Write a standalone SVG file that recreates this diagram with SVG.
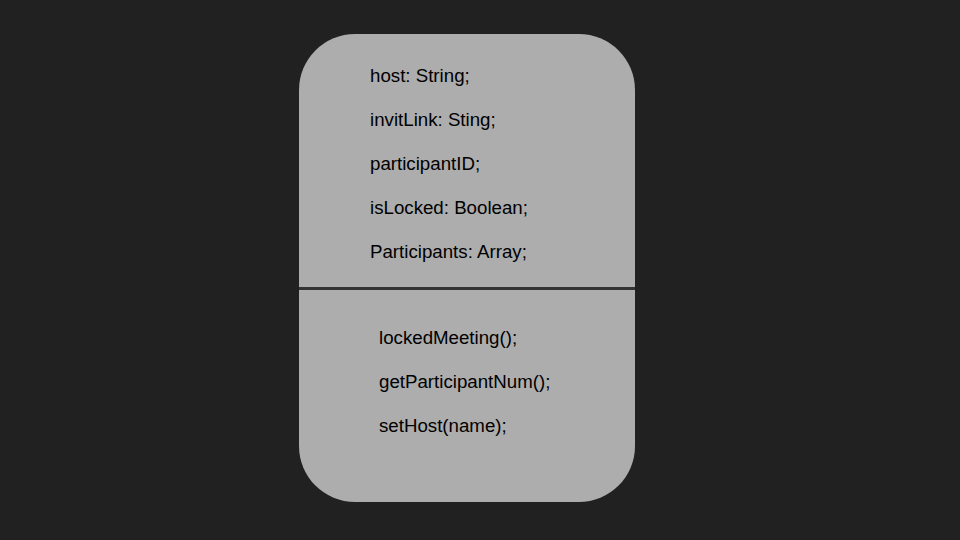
<svg xmlns="http://www.w3.org/2000/svg" width="960" height="540" viewBox="0 0 960 540">
<style>
.t{font-family:"Liberation Sans",Arial,sans-serif;font-size:18.7px;fill:#000}
</style>
<rect width="960" height="540" fill="#212121"/>
<g id="class-node">
<rect x="299" y="34" width="336" height="468" rx="56" ry="56" fill="#adadad"/>
<line x1="299" y1="288.5" x2="635" y2="288.5" stroke="#333333" stroke-width="3"/>
<text class="t" x="370" y="82">host: String;</text>
<text class="t" x="370" y="126">invitLink: Sting;</text>
<text class="t" x="370" y="170">participantID;</text>
<text class="t" x="370" y="214">isLocked: Boolean;</text>
<text class="t" x="370" y="258">Participants: Array;</text>
<text class="t" x="379" y="344">lockedMeeting();</text>
<text class="t" x="379" y="388">getParticipantNum();</text>
<text class="t" x="379" y="432">setHost(name);</text>
</g>
<g id="connectors"/>
</svg>
